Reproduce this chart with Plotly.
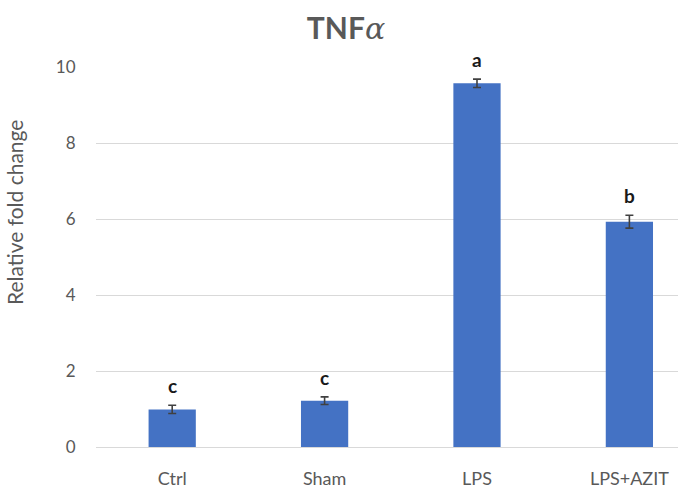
import plotly.graph_objects as go

categories = ["Ctrl", "Sham", "LPS", "LPS+AZIT"]
values = [0.99, 1.22, 9.57, 5.93]
errors = [0.11, 0.10, 0.11, 0.17]
letters = ["c", "c", "a", "b"]
yticks = [0, 2, 4, 6, 8, 10]

FONT = "Lato"
GRAY = "#595959"

fig = go.Figure()
fig.add_trace(go.Bar(
    x=categories, y=values, width=0.31,
    marker=dict(color="#4472C4", line=dict(width=0)),
    error_y=dict(type="data", array=errors, visible=True, color="#404040", thickness=1.6, width=4),
))

for c, v, e, l in zip(categories, values, errors, letters):
    fig.add_annotation(x=c, y=v + e, text="<b>" + l + "</b>", showarrow=False,
                       yanchor="bottom", yshift=6,
                       font=dict(family=FONT, size=19, color="#1a1a1a"))

fig.add_annotation(xref="paper", yref="paper", x=-0.141, y=0.618, text="Relative fold change",
                   textangle=-90, showarrow=False, xanchor="center", yanchor="middle",
                   font=dict(family=FONT, size=21, color=GRAY))

fig.update_layout(
    width=678, height=496,
    margin=dict(l=96, r=0, t=67, b=49),
    paper_bgcolor="white", plot_bgcolor="white",
    showlegend=False,
    title=dict(text="<b>TNF</b><span style='font-family:DejaVu Serif'><i>α</i></span>",
               x=346 / 678, xanchor="center", y=1 - 28 / 496, yanchor="middle",
               font=dict(family=FONT, size=30, color=GRAY)),
    xaxis=dict(range=[-0.5, 3.319], showgrid=False, showline=False, zeroline=False,
               ticks="outside", ticklen=15, tickcolor="rgba(0,0,0,0)",
               tickfont=dict(family=FONT, size=18, color=GRAY)),
    yaxis=dict(range=[0, 10], tickvals=yticks, showgrid=True, gridcolor="#d9d9d9", gridwidth=1,
               zeroline=True, zerolinecolor="#d9d9d9", zerolinewidth=1, showline=False,
               ticks="outside", ticklen=16, tickcolor="rgba(0,0,0,0)",
               tickfont=dict(family=FONT, size=17, color=GRAY)),
)

fig.write_html("out.html")
